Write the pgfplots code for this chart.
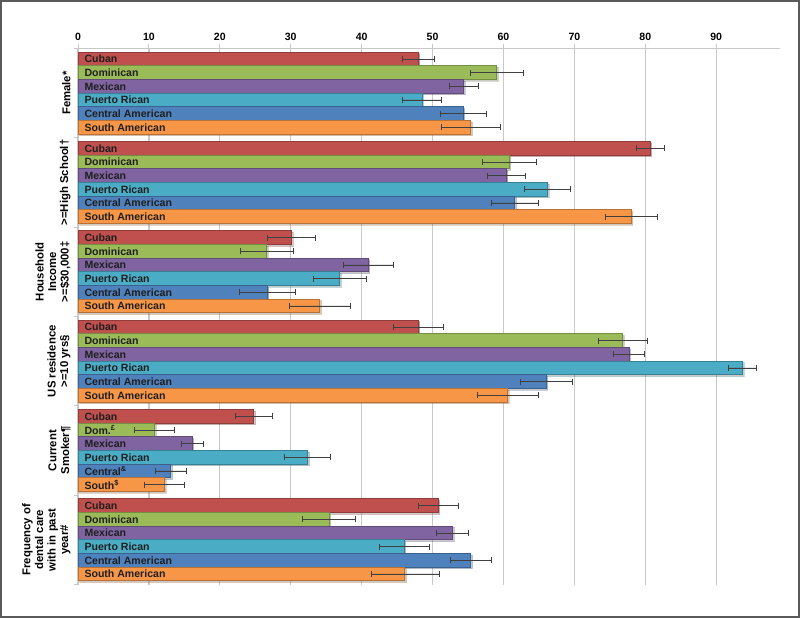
\documentclass[border=0pt]{standalone}
\usepackage{pgfplots}
\pgfplotsset{compat=1.18}
\usepackage{fontspec}
\setmainfont{Liberation Sans}
\usetikzlibrary{shadows}

\definecolor{cuban}{HTML}{C0504D}
\definecolor{domin}{HTML}{9BBB59}
\definecolor{mexic}{HTML}{8064A2}
\definecolor{puert}{HTML}{4BACC6}
\definecolor{centr}{HTML}{4F81BD}
\definecolor{south}{HTML}{F79646}
\definecolor{gridc}{HTML}{C8C8C8}
\definecolor{errc}{HTML}{404040}
\definecolor{framec}{HTML}{5A5A5A}

\newcommand{\lblfont}{\bfseries\fontsize{10.6}{12.2}\selectfont}
\newcommand{\grpfont}{\bfseries\fontsize{11.4}{12.6}\selectfont}

\pgfplotsset{
  hbar/.style={
    xbar, bar shift=0pt, bar width=1,
    fill=#1, draw=#1!75!black, line width=0.8bp,
    drop shadow={shadow xshift=1.5bp, shadow yshift=-1.5bp, opacity=0.3, fill=black!70},
    error bars/.cd, x dir=both, x explicit,
    error mark=|,
    error bar style={errc, line width=0.7bp},
    error mark options={errc, line width=0.7bp, mark size=3bp},
  },
}

\begin{document}
\begin{tikzpicture}[x=1bp,y=1bp]
\draw[line width=2bp, framec] (1,1) rectangle (799,617);
\begin{axis}[
  at={(78bp,33.5bp)}, anchor=south west, scale only axis,
  width=702bp, height=536bp,
  xmin=0, xmax=99, ymin=0, ymax=39.24, y dir=reverse,
  axis x line*=top, axis y line*=left,
  axis line style={gridc, line width=1.2bp},
  tick align=outside, major tick length=4bp,
  xtick={0,10,...,90},
  xmajorgrids, major grid style={gridc, line width=1.2bp},
  x tick style={gridc, line width=1bp},
  x tick label style={font=\lblfont, /pgf/number format/assume math mode=true},
  ytick={3.27,9.81,16.35,22.89,29.43,35.97},
  yticklabels={
    Female*,
    {>=High School†},
    {Household\\Income\\>=\$30,000‡},
    {US residence\\>=10 yrs§},
    {Current\\Smoker¶},
    {Frequency of\\dental care\\with in past\\year\#}},
  y tick style={draw=none},
  y tick label style={rotate=90, anchor=south, align=center, font=\grpfont},
  extra y ticks={0,6.54,13.08,19.62,26.16,32.70,39.24},
  extra y tick labels={},
  extra y tick style={y tick style={draw=gridc, line width=1bp}, grid=none},
  clip=false,
]
\addplot[hbar=cuban] coordinates {
  (48.0,0.77) +- (2.3,0)
  (80.7,7.31) +- (2.0,0)
  (30.1,13.85) +- (3.4,0)
  (48.0,20.39) +- (3.55,0)
  (24.8,26.93) +- (2.6,0)
  (50.8,33.47) +- (2.85,0)
};
\addplot[hbar=domin] coordinates {
  (59.05,1.77) +- (3.75,0)
  (60.8,8.31) +- (3.8,0)
  (26.6,14.85) +- (3.75,0)
  (76.8,21.39) +- (3.45,0)
  (10.8,27.93) +- (2.8,0)
  (35.4,34.47) +- (3.75,0)
};
\addplot[hbar=mexic] coordinates {
  (54.35,2.77) +- (2.05,0)
  (60.4,9.31) +- (2.7,0)
  (40.9,15.85) +- (3.55,0)
  (77.7,22.39) +- (2.2,0)
  (16.1,28.93) +- (1.55,0)
  (52.8,35.47) +- (2.25,0)
};
\addplot[hbar=puert] coordinates {
  (48.5,3.77) +- (2.7,0)
  (66.2,10.31) +- (3.3,0)
  (36.9,16.85) +- (3.75,0)
  (93.7,23.39) +- (1.95,0)
  (32.4,29.93) +- (3.25,0)
  (46.0,36.47) +- (3.5,0)
};
\addplot[hbar=centr] coordinates {
  (54.3,4.77) +- (3.25,0)
  (61.6,11.31) +- (3.25,0)
  (26.7,17.85) +- (3.9,0)
  (66.0,24.39) +- (3.65,0)
  (13.1,30.93) +- (2.15,0)
  (55.4,37.47) +- (2.9,0)
};
\addplot[hbar=south] coordinates {
  (55.4,5.77) +- (4.1,0)
  (78.0,12.31) +- (3.7,0)
  (34.1,18.85) +- (4.25,0)
  (60.6,25.39) +- (4.35,0)
  (12.2,31.93) +- (2.8,0)
  (46.1,38.47) +- (4.8,0)
};
% labels inside the bars
\addplot[only marks, mark=none, point meta=explicit symbolic,
  nodes near coords, nodes near coords align=horizontal,
  every node near coord/.append style={anchor=west, xshift=3bp, font=\lblfont, text=black!88}]
  coordinates {
  (0,0.77)[Cuban] (0,1.77)[Dominican] (0,2.77)[Mexican] (0,3.77)[Puerto Rican] (0,4.77)[Central American] (0,5.77)[South American]
  (0,7.31)[Cuban] (0,8.31)[Dominican] (0,9.31)[Mexican] (0,10.31)[Puerto Rican] (0,11.31)[Central American] (0,12.31)[South American]
  (0,13.85)[Cuban] (0,14.85)[Dominican] (0,15.85)[Mexican] (0,16.85)[Puerto Rican] (0,17.85)[Central American] (0,18.85)[South American]
  (0,20.39)[Cuban] (0,21.39)[Dominican] (0,22.39)[Mexican] (0,23.39)[Puerto Rican] (0,24.39)[Central American] (0,25.39)[South American]
  (0,26.93)[Cuban] (0,27.93)[{Dom.\textsuperscript{£}}] (0,28.93)[Mexican] (0,29.93)[Puerto Rican] (0,30.93)[{Central\textsuperscript{\&}}] (0,31.93)[{South\textsuperscript{\$}}]
  (0,33.47)[Cuban] (0,34.47)[Dominican] (0,35.47)[Mexican] (0,36.47)[Puerto Rican] (0,37.47)[Central American] (0,38.47)[South American]
};
\end{axis}
\end{tikzpicture}
\end{document}
